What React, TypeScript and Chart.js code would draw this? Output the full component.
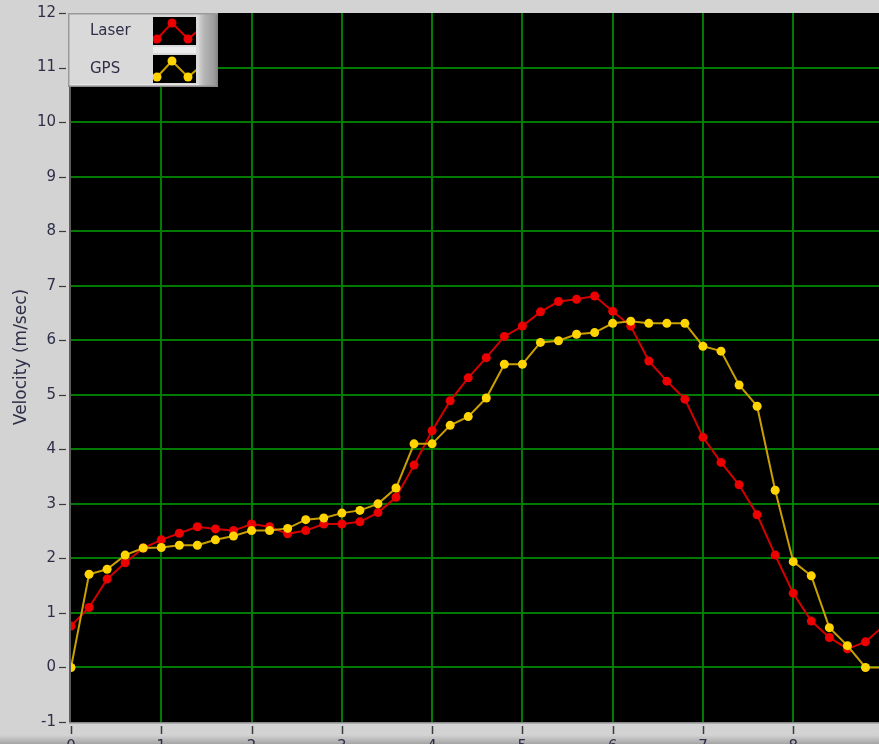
import React, { useEffect, useRef } from "react";
import { Chart, registerables } from "chart.js";

Chart.register(...registerables);

// ---- data ----
const timeValues = [
  0, 0.2, 0.4, 0.6, 0.8, 1, 1.2, 1.4, 1.6, 1.8, 2, 2.2, 2.4, 2.6, 2.8, 3, 3.2, 3.4, 3.6, 3.8,
  4, 4.2, 4.4, 4.6, 4.8, 5, 5.2, 5.4, 5.6, 5.8, 6, 6.2, 6.4, 6.6, 6.8, 7, 7.2, 7.4, 7.6, 7.8,
  8, 8.2, 8.4, 8.6, 8.8, 9,
];
const laserVelocity = [
  0.76, 1.1, 1.62, 1.92, 2.19, 2.34, 2.46, 2.58, 2.54, 2.51, 2.63, 2.58, 2.45, 2.51, 2.63, 2.63, 2.67, 2.84, 3.12, 3.71,
  4.34, 4.89, 5.31, 5.68, 6.07, 6.26, 6.52, 6.71, 6.75, 6.81, 6.53, 6.26, 5.62, 5.25, 4.92, 4.22, 3.76, 3.35, 2.8, 2.06,
  1.36, 0.85, 0.55, 0.34, 0.47, 0.76,
];
const gpsVelocity = [
  0, 1.71, 1.8, 2.06, 2.19, 2.2, 2.24, 2.24, 2.34, 2.41, 2.51, 2.51, 2.55, 2.71, 2.74, 2.83, 2.88, 3.0, 3.29, 4.1,
  4.1, 4.44, 4.6, 4.94, 5.56, 5.56, 5.96, 5.99, 6.11, 6.14, 6.31, 6.35, 6.31, 6.31, 6.31, 5.89, 5.8, 5.18, 4.79, 3.25,
  1.94, 1.68, 0.73, 0.4, 0, 0,
];
const seriesNames = ["Laser", "GPS"];
const xTickValues = [0, 1, 2, 3, 4, 5, 6, 7, 8];
const yTickValues = [-1, 0, 1, 2, 3, 4, 5, 6, 7, 8, 9, 10, 11, 12];
const yAxisTitle = "Velocity (m/sec)";
const X_MIN = 0;
const X_MAX = 8.95;
const Y_MIN = -1;
const Y_MAX = 12;

const FONT = '"DejaVu Sans", Tahoma, sans-serif';
const TEXT = "#2e2e48";
const GRID = "#007a00";

const panelPlugin = {
  id: "labviewPanel",
  beforeDraw(chart: any) {
    const { ctx, width, height, chartArea: a } = chart;
    ctx.save();
    ctx.fillStyle = "#d3d3d3";
    ctx.fillRect(0, 0, width, height);
    const g = ctx.createLinearGradient(0, 735, 0, height);
    g.addColorStop(0, "rgba(0,0,0,0)");
    g.addColorStop(1, "rgba(0,0,0,0.22)");
    ctx.fillStyle = g;
    ctx.fillRect(0, 735, width, height - 735);
    ctx.fillStyle = "#000";
    ctx.fillRect(a.left, a.top, a.right - a.left, a.bottom - a.top);
    ctx.restore();
  },
  beforeDatasetsDraw(chart: any) {
    const { ctx, chartArea: a, scales } = chart;
    ctx.save();
    // plot borders
    ctx.fillStyle = "#5c5c5c";
    ctx.fillRect(a.left - 2, a.top, 2, a.bottom - a.top + 1);
    ctx.fillStyle = "#8a8a8a";
    ctx.fillRect(a.left - 2, a.bottom, a.right - a.left + 2, 1.5);
    // tick marks
    ctx.strokeStyle = "#3a3a3a";
    ctx.lineWidth = 1.2;
    for (const v of yTickValues) {
      const py = Math.round(scales.y.getPixelForValue(v)) + 0.5;
      ctx.beginPath();
      ctx.moveTo(59, py);
      ctx.lineTo(66, py);
      ctx.stroke();
    }
    ctx.lineWidth = 1.5;
    for (const v of xTickValues) {
      const px = Math.round(scales.x.getPixelForValue(v)) + 0.5;
      ctx.beginPath();
      ctx.moveTo(px, a.bottom + 4);
      ctx.lineTo(px, a.bottom + 12);
      ctx.stroke();
    }
    ctx.restore();
  },
  afterDraw(chart: any) {
    const { ctx } = chart;
    ctx.save();
    // axis title
    ctx.translate(22, 357);
    ctx.rotate(-Math.PI / 2);
    ctx.font = `17px ${FONT}`;
    ctx.fillStyle = TEXT;
    ctx.textAlign = "center";
    ctx.textBaseline = "middle";
    ctx.fillText(yAxisTitle, 0, 0);
    ctx.restore();

    // legend
    const lx = 68, ly = 13, lw = 150, lh = 74;
    ctx.save();
    ctx.fillStyle = "#d9d9d9";
    ctx.fillRect(lx, ly, lw, lh);
    const bar = ctx.createLinearGradient(199, 0, 218, 0);
    bar.addColorStop(0, "#d0d0d0");
    bar.addColorStop(0.3, "#b4b4b4");
    bar.addColorStop(0.8, "#9c9c9c");
    bar.addColorStop(1, "#828282");
    ctx.fillStyle = bar;
    ctx.fillRect(199, ly, 19, lh);
    ctx.fillStyle = "#9a9a9a";
    ctx.fillRect(lx, ly, lw, 1.5);
    ctx.fillRect(lx, ly, 1.5, lh);
    ctx.fillStyle = "#8c8c8c";
    ctx.fillRect(lx, ly + lh - 1.5, lw, 1.5);
    ctx.fillStyle = "#e6e6e6";
    ctx.fillRect(lx + 2, ly + lh - 3, lw - 21, 1);

    chart.data.datasets.forEach((ds: any, i: number) => {
      const y0 = 17 + i * 38;
      const sx = 153, sw = 43, sh = 28;
      ctx.fillStyle = "#000";
      ctx.fillRect(sx, y0, sw, sh);
      ctx.save();
      ctx.beginPath();
      ctx.rect(sx, y0, sw, sh);
      ctx.clip();
      const pts = [
        [157, y0 + 22],
        [172, y0 + 6],
        [188, y0 + 22],
        [200, y0 + 12],
      ];
      ctx.strokeStyle = ds.borderColor;
      ctx.lineWidth = 2;
      ctx.beginPath();
      pts.forEach((p, k) => (k === 0 ? ctx.moveTo(p[0], p[1]) : ctx.lineTo(p[0], p[1])));
      ctx.stroke();
      ctx.fillStyle = ds.pointBackgroundColor;
      for (let k = 0; k < 3; k++) {
        ctx.beginPath();
        ctx.arc(pts[k][0], pts[k][1], 4.5, 0, Math.PI * 2);
        ctx.fill();
      }
      ctx.restore();
      ctx.fillStyle = "#ececec";
      if (i === 0) ctx.fillRect(sx, y0 + sh + 2, sw, 6);
      ctx.font = `15px ${FONT}`;
      ctx.fillStyle = TEXT;
      ctx.textAlign = "left";
      ctx.textBaseline = "middle";
      ctx.fillText(ds.label, 90, y0 + 14);
    });
    ctx.restore();
  },
};

const zeroPadding = (s: any) => {
  s.paddingTop = 0;
  s.paddingBottom = 0;
  s.paddingLeft = 0;
  s.paddingRight = 0;
};

export default function App() {
  const ref = useRef<HTMLCanvasElement | null>(null);

  useEffect(() => {
    document.body.style.margin = "0";
    const canvas = ref.current;
    if (!canvas) return;
    const chart = new Chart(canvas, {
      type: "line",
      data: {
        datasets: [
          {
            label: seriesNames[0],
            data: timeValues.map((t, i) => ({ x: t, y: laserVelocity[i] })),
            borderColor: "#d40000",
            backgroundColor: "#ec0000",
            pointBackgroundColor: "#ec0000",
            pointBorderWidth: 0,
            pointRadius: 4.5,
            borderWidth: 2,
            tension: 0,
            order: 1,
          },
          {
            label: seriesNames[1],
            data: timeValues.map((t, i) => ({ x: t, y: gpsVelocity[i] })),
            borderColor: "#c9a000",
            backgroundColor: "#ffd400",
            pointBackgroundColor: "#ffd400",
            pointBorderWidth: 0,
            pointRadius: 4.5,
            borderWidth: 2,
            tension: 0,
            order: 0,
          },
        ],
      },
      options: {
        animation: false,
        responsive: false,
        events: [],
        layout: { autoPadding: false, padding: { top: 13, left: 0, right: 0, bottom: 0 } },
        plugins: {
          legend: { display: false },
          tooltip: { enabled: false },
          title: { display: false },
        },
        scales: {
          x: {
            type: "linear",
            min: X_MIN,
            max: X_MAX,
            afterBuildTicks: (s: any) => {
              s.ticks = xTickValues.map((v) => ({ value: v }));
            },
            afterFit: (s: any) => {
              s.height = 22;
              zeroPadding(s);
            },
            grid: {
              color: (c: any) => (c.tick && c.tick.value === X_MIN ? "rgba(0,0,0,0)" : GRID),
              lineWidth: 2,
              drawTicks: false,
            },
            border: { display: false },
            ticks: {
              padding: 16,
              color: TEXT,
              font: { family: FONT, size: 15 },
              maxRotation: 0,
              autoSkip: false,
              callback: (v: any) => String(v),
            },
          },
          y: {
            type: "linear",
            min: Y_MIN,
            max: Y_MAX,
            afterBuildTicks: (s: any) => {
              s.ticks = yTickValues.map((v) => ({ value: v }));
            },
            afterFit: (s: any) => {
              s.width = 71;
              zeroPadding(s);
            },
            grid: {
              color: (c: any) =>
                c.tick && (c.tick.value === Y_MIN || c.tick.value === Y_MAX) ? "rgba(0,0,0,0)" : GRID,
              lineWidth: 2,
              drawTicks: false,
            },
            border: { display: false },
            ticks: {
              padding: 15,
              color: TEXT,
              font: { family: FONT, size: 15 },
              autoSkip: false,
              callback: (v: any) => String(v),
            },
          },
        },
      },
      plugins: [panelPlugin],
    } as any);
    return () => chart.destroy();
  }, []);

  return (
    <div style={{ position: "absolute", left: 0, top: 0, width: 879, height: 744 }}>
      <canvas ref={ref} width={879} height={744} style={{ display: "block" }} />
    </div>
  );
}
